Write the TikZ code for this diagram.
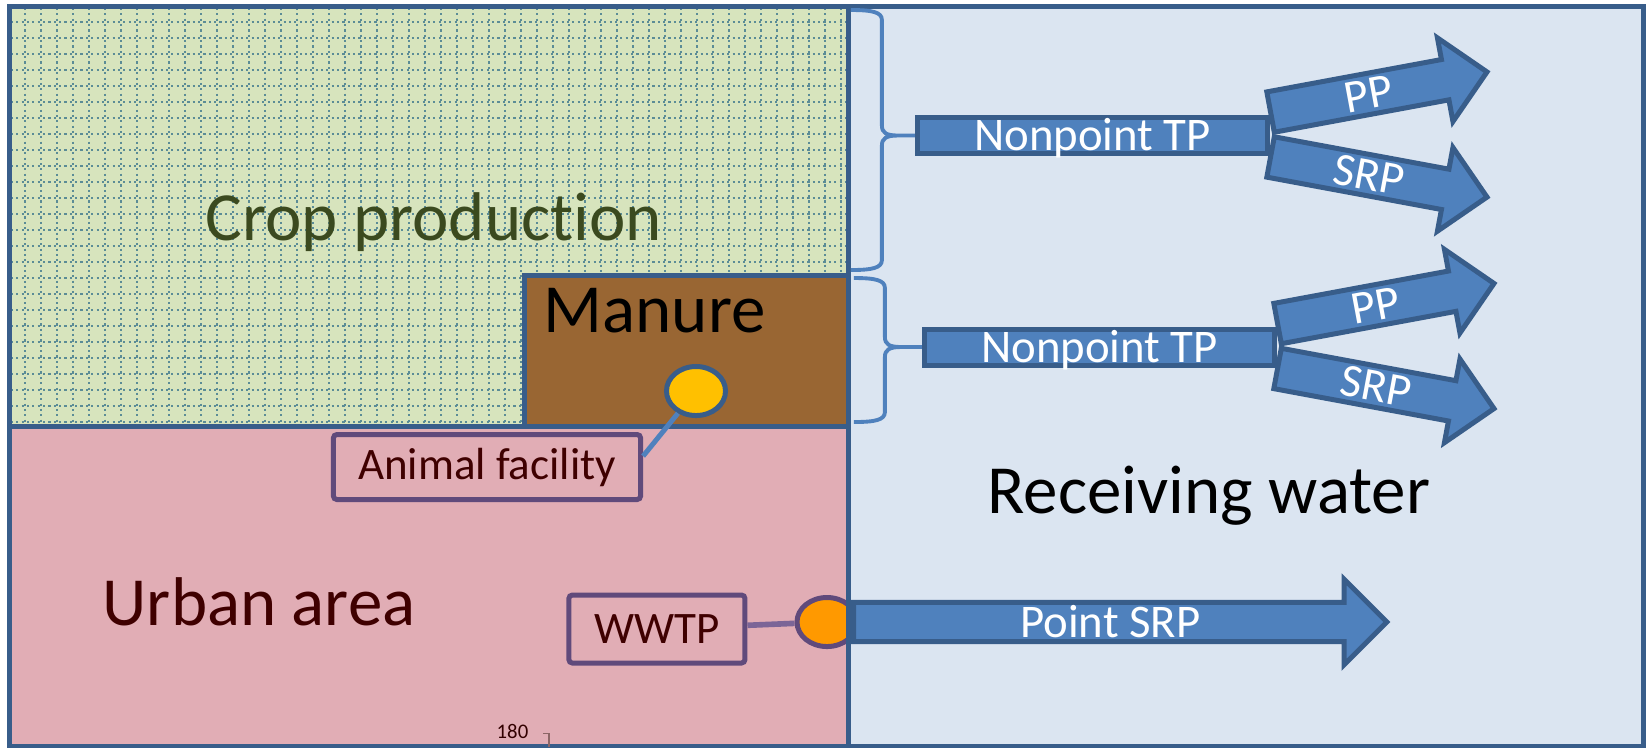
\documentclass[tikz,border=0pt]{standalone}
\usepackage{fontspec}
\setmainfont{Carlito}[Ligatures=NoCommon]
\usetikzlibrary{arrows.meta, positioning, shapes.geometric, shapes.arrows, calc}

\definecolor{frameblue}{HTML}{385D8A}
\definecolor{flowblue}{HTML}{4F81BD}
\definecolor{waterbg}{HTML}{DBE5F1}
\definecolor{cropbg}{HTML}{D7E4BD}
\definecolor{cropdot}{HTML}{5B8C96}
\definecolor{croptext}{HTML}{3B4A1F}
\definecolor{manurebg}{HTML}{996633}
\definecolor{urbanbg}{HTML}{E1ADB5}
\definecolor{urbantext}{HTML}{3F0000}
\definecolor{labelline}{HTML}{604A7B}
\definecolor{pipeline}{HTML}{7B6597}
\definecolor{barnfill}{HTML}{FFC000}
\definecolor{plantfill}{HTML}{FF9900}

\begin{document}
\begin{tikzpicture}[
    x=0.01cm, y=-0.01cm,
    region/.style={draw=frameblue, line width=1.42pt},
    bigtext/.style={font=\fontsize{19.6}{23}\selectfont, inner sep=0pt,
                    anchor=base west},
    facility/.style={draw=labelline, line width=1.42pt, fill=urbanbg,
                     rounded corners=1pt, text=urbantext,
                     font=\fontsize{12.8}{15}\selectfont},
    site/.style={ellipse, line width=1.42pt, minimum width=0.6cm,
                 minimum height=0.49cm, inner sep=0pt},
    flowbar/.style={draw=frameblue, fill=flowblue, line width=1.42pt,
                    text=white, font=\fontsize{13.3}{15}\selectfont,
                    text height=0.3cm, text depth=0pt},
    shaft/.style={flowbar, rectangle, minimum width=3.5cm,
                  minimum height=0.36cm, inner sep=0pt},
    branch/.style={flowbar, single arrow, anchor=tail, minimum height=2.2cm,
                   single arrow head extend=0.22cm, inner ysep=0.03cm,
                   inner xsep=0pt},
    gridline/.style={cropdot, line width=0.6pt,
                     dash pattern=on 0.6pt off 0.92pt},
    brace/.style={draw=flowblue, line width=1.1pt, line join=round}
  ]
  \useasboundingbox (0,0) rectangle (1649,747);

  % Land areas and receiving water
  \fill[waterbg] (848,6.5) rectangle (1643,746);
  \fill[cropbg] (9.5,6.5) rectangle (848,426);
  \fill[urbanbg] (9.5,426) rectangle (848,746);
  \begin{scope}
    \clip (9.5,6.5) rectangle (848,426);
    \foreach \gx in {25,41,...,841}
      \draw[gridline] (\gx,8) -- (\gx,426);
    \foreach \gy in {22,38,...,422}
      \draw[gridline] (11,\gy) -- (848,\gy);
  \end{scope}
  \draw[region, fill=manurebg] (524,275) rectangle (848,426);

  \node[site, draw=labelline, fill=plantfill] (plant) at (827,622) {};

  \draw[region] (9.5,426) -- (848,426);
  \draw[region] (848,6.5) -- (848,746);
  \draw[region] (9.5,6.5) rectangle (1643,746);

  % Area labels
  \node[bigtext, text=croptext] (croplbl) at (205,240) {Crop production};
  \node[bigtext] (manurelbl) at (543,332) {Manure};
  \node[bigtext, text=urbantext] (urbanlbl) at (102,625) {Urban area};
  \node[bigtext] (waterlbl) at (987,513) {Receiving water};

  % Sources
  \node[site, draw=frameblue, fill=barnfill, minimum width=0.59cm]
    (barn) at (696,391) {};
  \node[facility, minimum width=3.07cm, minimum height=0.65cm]
    (animal) at (487,467) {Animal facility};
  \draw[flowblue, line width=1.42pt] (barn) -- (animal.4);

  \node[facility, minimum width=1.76cm, minimum height=0.68cm,
        left=0.47cm of plant, yshift=-0.07cm] (wwtp) {WWTP};
  \draw[pipeline, line width=1.6pt] (wwtp) -- (plant);

  % Loads to the water
  \node[branch, minimum height=5.33cm, single arrow head extend=0.23cm,
        inner ysep=0.022cm] (pointsrp) at (851,622) {Point SRP};

  \node[shaft] (npone) at (1092.5,135.5) {Nonpoint TP};
  \node[shaft] (nptwo) at (1099.5,347) {Nonpoint TP};

  \node[branch, rotate=10.5] (ppone) at ($(npone.east)+(-2,-23)$) {PP};
  \node[branch, rotate=-10.5] (srpone) at ($(npone.east)+(-2,21)$) {SRP};
  \node[branch, rotate=10.5] (pptwo) at ($(nptwo.east)+(-2,-23)$) {PP};
  \node[branch, rotate=-10.5] (srptwo) at ($(nptwo.east)+(-2,21)$) {SRP};

  \foreach \np/\tl/\up/\dn in {npone/17/105.5/114.5, nptwo/21/49/55}
    \draw[brace] (\np.west) -- ++(-\tl,0)
        .. controls +(-12,0) and +(0,7) .. ++(-16,-10) -- ++(0,-\up)
        .. controls +(0,-8) and +(21,0) .. ++(-31,-10)
      (\np.west) -- ++(-\tl,0)
        .. controls +(-12,0) and +(0,-7) .. ++(-16,10) -- ++(0,\dn)
        .. controls +(0,8) and +(21,0) .. ++(-31,10);

  \node[font=\fontsize{5.9}{7}\selectfont, text=urbantext!80!black,
        anchor=base west, inner sep=0pt] (pagenum) at (496,738) {180};
  \draw[urbantext!60, line width=0.3pt] (543,733) -- (549,733) -- (549,747);
\end{tikzpicture}
\end{document}
